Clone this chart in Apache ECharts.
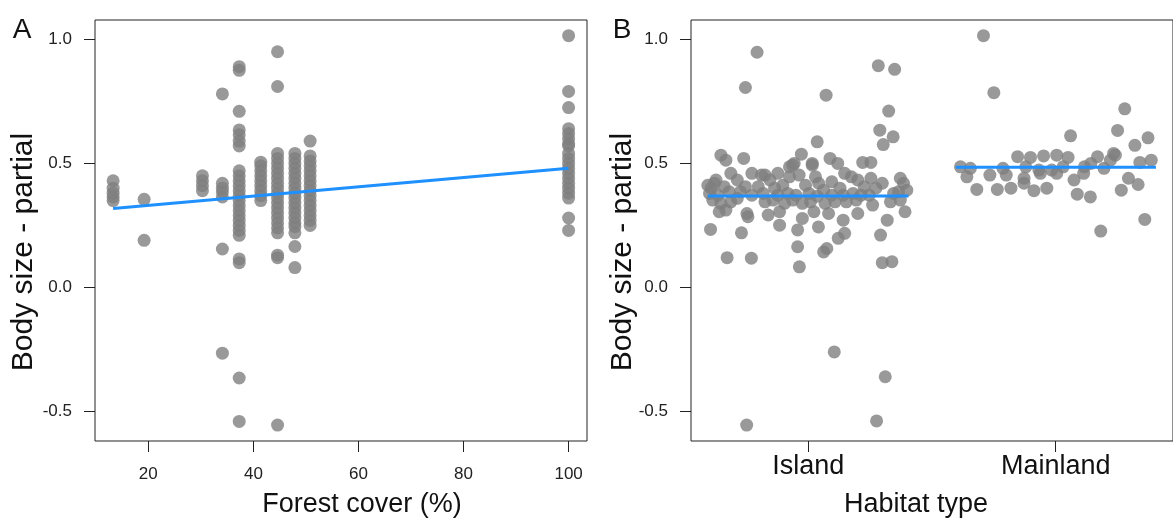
<!DOCTYPE html>
<html lang="en">
<head>
<meta charset="UTF-8">
<script src="https://cdn.jsdelivr.net/npm/echarts@6/dist/echarts.min.js"></script>
<title>body size partial plots</title>
<style>
  html, body { margin: 0; padding: 0; background: #fff; }
  #chart { width: 1173px; height: 525px; }
</style>
</head>
<body>
<div id="chart"></div>
<script>
// ---- panel A: forest cover strips (x value + body size values read per strip)
var forestX = [13.3, 19.2, 30.3, 34.1, 37.3, 41.4, 44.6, 47.9, 50.8, 100];
var forestY = [
  [0.43, 0.40, 0.38, 0.365, 0.35],
  [0.355, 0.19],
  [0.45, 0.43, 0.41, 0.39],
  [0.78, 0.42, 0.40, 0.385, 0.365, 0.155, -0.265],
  [0.89, 0.875, 0.71, 0.635, 0.615, 0.59, 0.57, 0.47, 0.45, 0.43, 0.41, 0.39, 0.37,
   0.35, 0.33, 0.31, 0.29, 0.27, 0.25, 0.23, 0.21, 0.115, 0.10, -0.365, -0.54],
  [0.505, 0.49, 0.47, 0.45, 0.43, 0.41, 0.39, 0.37, 0.35],
  [0.95, 0.81, 0.54, 0.52, 0.50, 0.48, 0.46, 0.44, 0.42, 0.40, 0.38, 0.36, 0.34,
   0.32, 0.30, 0.28, 0.26, 0.24, 0.22, 0.13, 0.12, -0.555],
  [0.54, 0.52, 0.50, 0.48, 0.46, 0.44, 0.42, 0.40, 0.38, 0.36, 0.34, 0.32, 0.30,
   0.28, 0.26, 0.245, 0.22, 0.165, 0.08],
  [0.59, 0.53, 0.51, 0.49, 0.47, 0.45, 0.43, 0.41, 0.39, 0.37, 0.35, 0.33, 0.31,
   0.29, 0.27, 0.25],
  [1.015, 0.79, 0.725, 0.64, 0.62, 0.60, 0.58, 0.57, 0.54, 0.52, 0.50, 0.48, 0.46,
   0.44, 0.42, 0.40, 0.38, 0.36, 0.28, 0.23]
];
var fitA = [[13.3, 0.318], [100, 0.48]];
var forestTicks = [20, 40, 60, 80, 100];

// ---- panel B: habitat type, jittered positions (1 = Island, 2 = Mainland)
var habitatCats = ['Island', 'Mainland'];
var islandX = [
  0.793, 0.746, 1.072, 1.283, 1.349, 1.325, 1.289, 1.343, 1.303, 1.036, 0.972, 0.647,
  0.667, 0.739, 1.220, 1.253, 0.605, 0.730, 0.756, 0.672, 0.770, 0.957, 0.957, 0.884,
  1.041, 1.075, 1.121, 1.141, 1.200, 1.292, 1.319, 1.391, 1.299, 1.338, 0.964, 1.105,
  1.311, 0.751, 1.276,
  1.088, 1.119, 0.937, 1.016, 0.877, 0.772, 0.811, 0.627, 0.687, 0.713, 0.845, 0.924,
  0.963, 1.029, 1.042, 1.095, 1.147, 1.174, 1.200, 1.253, 1.299, 1.372, 1.385, 0.608,
  0.660, 0.746, 0.798, 0.864, 0.897, 0.989, 1.062, 1.128, 1.226, 1.273, 1.398,
  0.614, 0.647, 0.687, 0.713, 0.825, 0.858, 0.904, 0.937, 0.976, 1.009, 1.068, 1.108,
  1.154, 1.194, 1.260, 1.332, 1.372, 0.640, 0.667, 0.752, 0.838, 0.884, 0.976, 1.023,
  1.082, 1.147, 1.062,
  0.621, 0.680, 0.726, 0.772, 0.818, 0.877, 0.917, 0.950, 1.003, 1.036, 1.095, 1.141,
  1.181, 1.213, 1.246, 1.345, 1.365, 0.601, 0.634, 0.594, 0.924, 0.943, 0.825, 1.016
];
var islandY = [
  0.948, 0.806, 0.775, 0.894, 0.879, 0.711, 0.634, 0.607, 0.576, 0.587, 0.537, 0.533,
  0.513, 0.520, 0.504, 0.504, 0.234, 0.220, 0.285, 0.120, 0.118, 0.164, 0.232, 0.251,
  0.244, 0.157, 0.198, 0.271, 0.298, 0.211, 0.271, 0.305, 0.100, 0.104, 0.083, -0.260,
  -0.360, -0.555, -0.538,
  0.520, 0.500, 0.493, 0.493, 0.460, 0.460, 0.453, 0.433, 0.460, 0.433, 0.433, 0.446,
  0.453, 0.446, 0.420, 0.426, 0.460, 0.446, 0.433, 0.440, 0.420, 0.440, 0.420, 0.400,
  0.406, 0.406, 0.406, 0.400, 0.412, 0.412, 0.392, 0.400, 0.406, 0.400, 0.392,
  0.352, 0.339, 0.345, 0.359, 0.345, 0.352, 0.339, 0.352, 0.339, 0.345, 0.339, 0.345,
  0.345, 0.352, 0.332, 0.345, 0.352, 0.305, 0.312, 0.298, 0.292, 0.305, 0.278, 0.305,
  0.298, 0.218, 0.143,
  0.420, 0.386, 0.386, 0.372, 0.379, 0.372, 0.379, 0.372, 0.379, 0.368, 0.372, 0.372,
  0.379, 0.372, 0.372, 0.379, 0.386, 0.379, 0.372, 0.412, 0.486, 0.500, 0.453, 0.500
];
var mainlandX = [
  1.708, 1.750, 2.279, 2.060, 2.250, 2.373, 2.320, 2.386, 2.340, 1.615, 1.655, 1.641,
  1.681, 1.734, 1.764, 1.787, 1.800, 1.819, 1.846, 1.872, 1.879, 1.898, 1.912, 1.938,
  1.951, 1.964, 1.984, 2.004, 2.004, 2.050, 2.030, 2.074, 2.087, 2.116, 2.140, 2.142,
  2.169, 2.182, 2.195, 2.221, 2.241, 2.265, 2.294, 2.333, 2.360, 2.113, 1.932, 2.234,
  1.872
];
var mainlandY = [
  1.015, 0.785, 0.720, 0.611, 0.633, 0.603, 0.573, 0.513, 0.504, 0.486, 0.480, 0.446,
  0.395, 0.453, 0.395, 0.480, 0.453, 0.400, 0.527, 0.440, 0.486, 0.524, 0.390, 0.460,
  0.530, 0.400, 0.473, 0.533, 0.460, 0.524, 0.486, 0.433, 0.376, 0.486, 0.365, 0.500,
  0.527, 0.227, 0.480, 0.513, 0.533, 0.392, 0.440, 0.415, 0.274, 0.460, 0.473, 0.540,
  0.420
];
var fitIsland = [[0.594, 0.369], [1.405, 0.369]];
var fitMainland = [[1.596, 0.484], [2.405, 0.484]];

var yTicks = [-0.5, 0, 0.5, 1.0];
var yMin = -0.619, yMax = 1.078;

var FONT = 'Liberation Sans, Arial, sans-serif';
var DOT = '#808080';
var BLUE = '#1e90ff';

function zipPairs(xs, ys) {
  return xs.map(function (x, i) { return [x, ys[i]]; });
}
var scatterA = [];
forestX.forEach(function (x, i) {
  forestY[i].forEach(function (y) { scatterA.push([x, y]); });
});

function yAxisFor(idx) {
  return {
    gridIndex: idx,
    type: 'value',
    min: yMin,
    max: yMax,
    axisLine: { show: false, onZero: false },
    splitLine: { show: false },
    axisTick: { show: true, customValues: yTicks, length: 11, lineStyle: { color: '#222' } },
    axisLabel: {
      customValues: yTicks, margin: 23, fontSize: 17, color: '#222', fontFamily: FONT,
      formatter: function (v) { return v.toFixed(1); }
    }
  };
}

var chart = echarts.init(document.getElementById('chart'));
chart.setOption({
  animation: false,
  grid: [
    { left: 95, top: 20, width: 492, height: 421, show: true, borderColor: '#222', borderWidth: 1 },
    { left: 691, top: 20, width: 493, height: 421, show: true, borderColor: '#222', borderWidth: 1 }
  ],
  xAxis: [
    {
      gridIndex: 0, type: 'value', min: 9.85, max: 103.5,
      axisLine: { show: false, onZero: false }, splitLine: { show: false },
      axisTick: { show: true, customValues: forestTicks, length: 11, lineStyle: { color: '#222' } },
      axisLabel: { customValues: forestTicks, margin: 25, fontSize: 17, color: '#222', fontFamily: FONT }
    },
    {
      gridIndex: 1, type: 'value', min: 0.526, max: 2.474,
      axisLine: { show: false, onZero: false }, splitLine: { show: false },
      axisTick: { show: true, customValues: [1, 2], length: 11, lineStyle: { color: '#222' } },
      axisLabel: {
        customValues: [1, 2], margin: 12, fontSize: 27, color: '#111', fontFamily: FONT,
        formatter: function (v) { return habitatCats[Math.round(v) - 1]; }
      }
    }
  ],
  yAxis: [yAxisFor(0), yAxisFor(1)],
  series: [
    {
      type: 'scatter', xAxisIndex: 0, yAxisIndex: 0, data: scatterA,
      symbolSize: 13, itemStyle: { color: DOT }, silent: true
    },
    {
      type: 'line', xAxisIndex: 0, yAxisIndex: 0, data: fitA, symbol: 'none', z: 5,
      lineStyle: { color: BLUE, width: 3 }, silent: true
    },
    {
      type: 'scatter', xAxisIndex: 1, yAxisIndex: 1, data: zipPairs(islandX, islandY),
      symbolSize: 13, itemStyle: { color: DOT }, silent: true
    },
    {
      type: 'scatter', xAxisIndex: 1, yAxisIndex: 1, data: zipPairs(mainlandX, mainlandY),
      symbolSize: 13, itemStyle: { color: DOT }, silent: true
    },
    {
      type: 'line', xAxisIndex: 1, yAxisIndex: 1, data: fitIsland, symbol: 'none', z: 5,
      lineStyle: { color: BLUE, width: 3 }, silent: true
    },
    {
      type: 'line', xAxisIndex: 1, yAxisIndex: 1, data: fitMainland, symbol: 'none', z: 5,
      lineStyle: { color: BLUE, width: 3 }, silent: true
    }
  ],
  graphic: [
    { type: 'text', x: 22, y: 30, style: { text: 'A', fontSize: 28, fontFamily: FONT, fill: '#111', align: 'center', verticalAlign: 'middle' } },
    { type: 'text', x: 622, y: 30, style: { text: 'B', fontSize: 28, fontFamily: FONT, fill: '#111', align: 'center', verticalAlign: 'middle' } },
    { type: 'text', x: 362, y: 505, style: { text: 'Forest cover (%)', fontSize: 27, fontFamily: FONT, fill: '#111', align: 'center', verticalAlign: 'middle' } },
    { type: 'text', x: 916, y: 505, style: { text: 'Habitat type', fontSize: 27, fontFamily: FONT, fill: '#111', align: 'center', verticalAlign: 'middle' } },
    { type: 'text', x: 24, y: 252, rotation: Math.PI / 2, style: { text: 'Body size - partial', fontSize: 30, fontFamily: FONT, fill: '#111', align: 'center', verticalAlign: 'middle' } },
    { type: 'text', x: 623, y: 252, rotation: Math.PI / 2, style: { text: 'Body size - partial', fontSize: 30, fontFamily: FONT, fill: '#111', align: 'center', verticalAlign: 'middle' } }
  ]
});
</script>
</body>
</html>
